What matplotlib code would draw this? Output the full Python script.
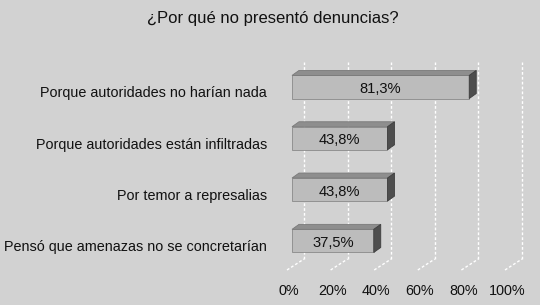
import matplotlib
matplotlib.use("Agg")
import matplotlib.pyplot as plt
from matplotlib.patches import Polygon
from matplotlib.transforms import offset_copy

plt.rcParams['font.family'] = ['Liberation Sans', 'DejaVu Sans']

title = "¿Por qué no presentó denuncias?"
categories = ["Porque autoridades no harían nada",
              "Porque autoridades están infiltradas",
              "Por temor a represalias",
              "Pensó que amenazas no se concretarían"]
values = [0.813, 0.438, 0.438, 0.375]
value_labels = ["81,3%", "43,8%", "43,8%", "37,5%"]
ticks = [0, 0.2, 0.4, 0.6, 0.8, 1.0]
tick_labels = ["0%", "20%", "40%", "60%", "80%", "100%"]

W, H = 540, 305
bg = "#d2d2d2"
fig = plt.figure(figsize=(W / 100, H / 100), dpi=100, facecolor=bg)
ax = fig.add_axes([287 / W, 35 / H, 218 / W, 208 / H])
ax.set_facecolor(bg)
ax.set_xlim(0, 1)
ax.set_ylim(3.567, -0.487)
for s in ax.spines.values():
    s.set_visible(False)

# data units per pixel
ux = 1.0 / 218
uy = (3.567 + 0.487) / 208

# back wall gridlines and floor
back_dx, back_dy = 17, 11
floor_front = 3.567
floor_back = floor_front - back_dy * uy
for t in ticks:
    ax.plot([t + back_dx * ux, t + back_dx * ux], [floor_back, -0.487], color="white",
            lw=1, ls=(0, (2, 1.5)), clip_on=False, zorder=1)
    ax.plot([t, t + back_dx * ux], [floor_front, floor_back], color="white",
            lw=1, ls=(0, (2, 1.5)), clip_on=False, zorder=1)

# bars with fake 3D faces
bar_x0 = 5 * ux
bh = 0.45
ddx, ddy = 7 * ux, 5 * uy
for i, v in enumerate(values):
    top, bot = i - bh / 2, i + bh / 2
    x1 = bar_x0 + v
    ax.add_patch(Polygon([(bar_x0, bot), (x1, bot), (x1, top), (bar_x0, top)],
                         closed=True, fc="#bcbcbc", ec="#8a8a8a", lw=0.6, zorder=3))
    ax.add_patch(Polygon([(bar_x0, top), (x1, top), (x1 + ddx, top - ddy),
                          (bar_x0 + ddx, top - ddy)],
                         closed=True, fc="#8e8e8e", ec="#7a7a7a", lw=0.6, zorder=3))
    ax.add_patch(Polygon([(x1, top), (x1, bot), (x1 + ddx, bot - ddy), (x1 + ddx, top - ddy)],
                         closed=True, fc="#4e4e4e", ec="#3e3e3e", lw=0.6, zorder=3))
    ax.text(bar_x0 + v / 2, i + 0.04, value_labels[i], ha="center", va="center",
            fontsize=10.6, color="#111111", zorder=4)

ax.set_yticks(range(len(categories)))
ax.set_yticklabels(categories, fontsize=10.4, color="#111111")
ax.tick_params(axis="y", length=0, pad=14.4)
for lab in ax.get_yticklabels():
    lab.set_transform(offset_copy(lab.get_transform(), fig=fig, x=0, y=-5, units="dots"))

ax.set_xticks(ticks)
ax.set_xticklabels(tick_labels, fontsize=10.4, color="#111111")
ax.tick_params(axis="x", length=0, pad=10)
for lab in ax.get_xticklabels():
    lab.set_transform(offset_copy(lab.get_transform(), fig=fig, x=2, y=0, units="dots"))

fig.text(273 / W, 1 - 18 / H, title, ha="center", va="center", fontsize=12, color="#111111")

fig.savefig("out.png", dpi=100, facecolor=bg)
